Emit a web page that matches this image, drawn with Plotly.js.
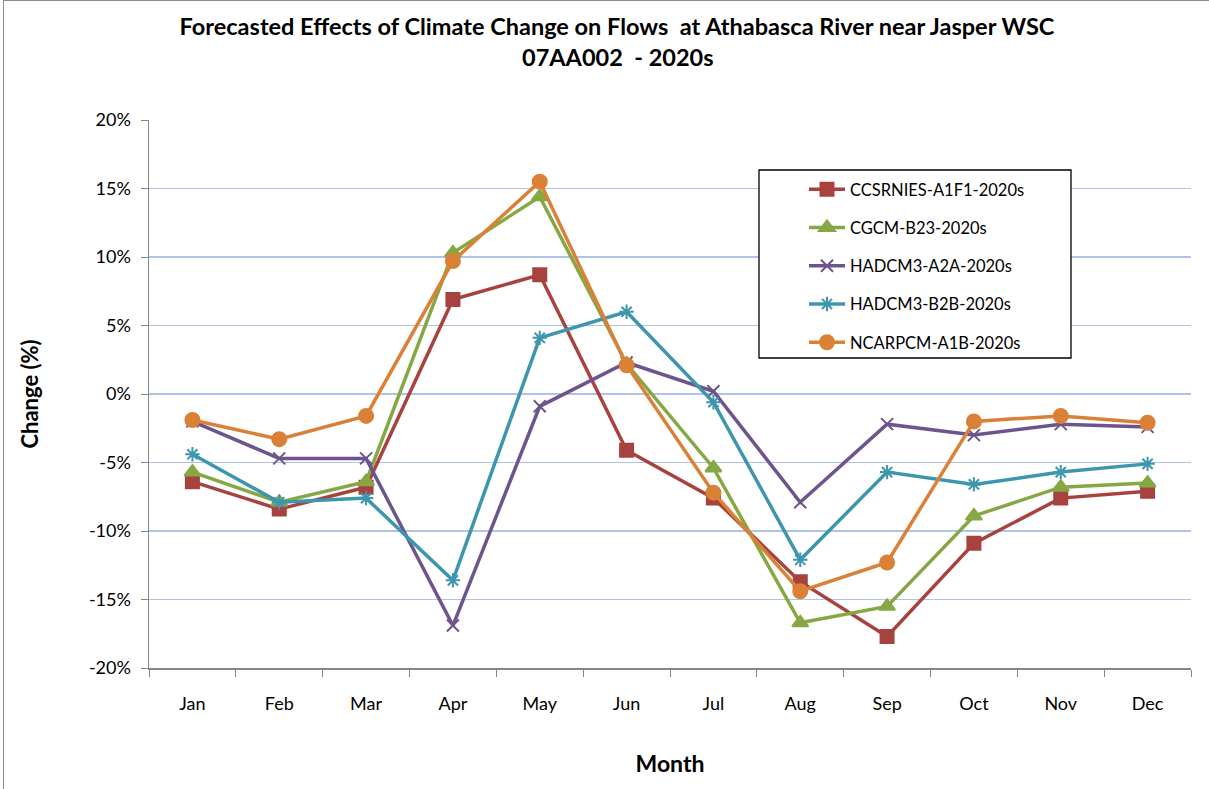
<!DOCTYPE html>
<html>
<head>
<meta charset="utf-8">
<script src="https://cdn.plot.ly/plotly-3.0.1.min.js"></script>
<style>
html,body{margin:0;padding:0;background:#fff;}
#chart{height:789px;box-sizing:border-box;border-left:1px solid #8c8c8c;border-top:1px solid #8c8c8c;margin-left:3px;width:1206px;}
</style>
</head>
<body>
<div id="chart"></div>
<script>
const months = ["Jan","Feb","Mar","Apr","May","Jun","Jul","Aug","Sep","Oct","Nov","Dec"];
const seriesNames = ["CCSRNIES-A1F1-2020s","CGCM-B23-2020s","HADCM3-A2A-2020s","HADCM3-B2B-2020s","NCARPCM-A1B-2020s"];
const ccsrnies = [-6.4,-8.4,-6.8,6.9,8.7,-4.1,-7.6,-13.7,-17.7,-10.9,-7.6,-7.1];
const cgcm     = [-5.7,-7.9,-6.4,10.3,14.4,2.2,-5.4,-16.7,-15.5,-8.9,-6.8,-6.5];
const hadA2A   = [-2.0,-4.7,-4.7,-16.9,-0.9,2.3,0.2,-7.9,-2.2,-3.0,-2.2,-2.4];
const hadB2B   = [-4.4,-7.9,-7.6,-13.6,4.1,6.0,-0.6,-12.1,-5.7,-6.6,-5.7,-5.1];
const ncarpcm  = [-1.9,-3.3,-1.6,9.7,15.5,2.1,-7.2,-14.4,-12.3,-2.0,-1.6,-2.1];
const yTickVals = [-20,-15,-10,-5,0,5,10,15,20];
const yTickText = ["-20%","-15%","-10%","-5%","0%","5%","10%","15%","20%"];

const colors = ["#a8423f","#86a844","#6e548d","#3d96ae","#da8137"];
const symbols = ["square","triangle-up","x-thin-open","asterisk-open","circle"];
const sizes = [13,14,12,12,14];
const data = [ccsrnies,cgcm,hadA2A,hadB2B,ncarpcm];

const traces = data.map((y,i)=>({
  x: months, y: y, name: seriesNames[i], type:"scatter", mode:"lines+markers",
  legendgroup: "g"+i,
  line:{color:colors[i], width:3.5},
  marker:{symbol:symbols[i], size:sizes[i], color:colors[i], line:{color:colors[i], width:2}}
}));

const W = 1206, H = 788;
const L = 145, R = 19, T = 119, B = 121;
const pw = W - L - R, ph = H - T - B;
const px = v => (v - 3 - L) / pw;      // page x -> paper x
const py = v => (H - B - (v - 1)) / ph; // page y -> paper y

const font = "Lato, 'Open Sans', sans-serif";
const layout = {
  width:W, height:H,
  margin:{l:L, r:R, t:T, b:B},
  paper_bgcolor:"#fff", plot_bgcolor:"#fff",
  font:{family:font, color:"#000", size:18},
  showlegend:true,
  title:{text:"<b>Forecasted Effects of Climate Change on Flows  at Athabasca River near Jasper WSC</b>",
    font:{family:font,size:23.5,color:"#000"}, x:(616-3)/W, xref:"container", xanchor:"center", y:1-26/H, yref:"container", yanchor:"middle"},
  annotations:[{text:"<b>07AA002  - 2020s</b>", xref:"paper", yref:"paper", x:px(617), y:py(57), showarrow:false,
    font:{family:font,size:23.5,color:"#000"}, xanchor:"center", yanchor:"middle"}],
  shapes:[{type:"rect", xref:"paper", yref:"paper", x0:px(758), x1:px(1070), y0:py(358), y1:py(170),
    line:{color:"#000", width:1.3}, fillcolor:"#fff", layer:"above"}],
  xaxis:{type:"category", categoryorder:"array", categoryarray:months, range:[-0.5,11.5], autorange:false,
    showline:true, linecolor:"#868686", linewidth:1.5, ticks:"outside", tickson:"boundaries", ticklen:7, tickcolor:"#868686",
    showgrid:false, tickfont:{size:18,family:font}, ticklabelstandoff:19,
    title:{text:"<b>Month</b>", font:{size:23,family:font}, standoff:43}},
  yaxis:{range:[-20,20], autorange:false, tickvals:yTickVals, ticktext:yTickText, showline:true, linecolor:"#868686", linewidth:1.5,
    ticks:"outside", ticklen:7, tickcolor:"#868686", showgrid:true, gridcolor:"#aec3e6", gridwidth:1.2, zeroline:false,
    tickfont:{size:18,family:font}, ticklabelstandoff:6,
    title:{text:"<b>Change (%)</b>", font:{size:22,family:font}, standoff:44}},
  legend:{x:px(803), y:py(172), xanchor:"left", yanchor:"top", borderwidth:0,
    bgcolor:"rgba(0,0,0,0)", font:{size:16.5,family:font}, traceorder:"grouped", tracegroupgap:13.8, itemwidth:36}
};
Plotly.newPlot("chart", traces, layout, {displayModeBar:false, staticPlot:true});
</script>
</body>
</html>
